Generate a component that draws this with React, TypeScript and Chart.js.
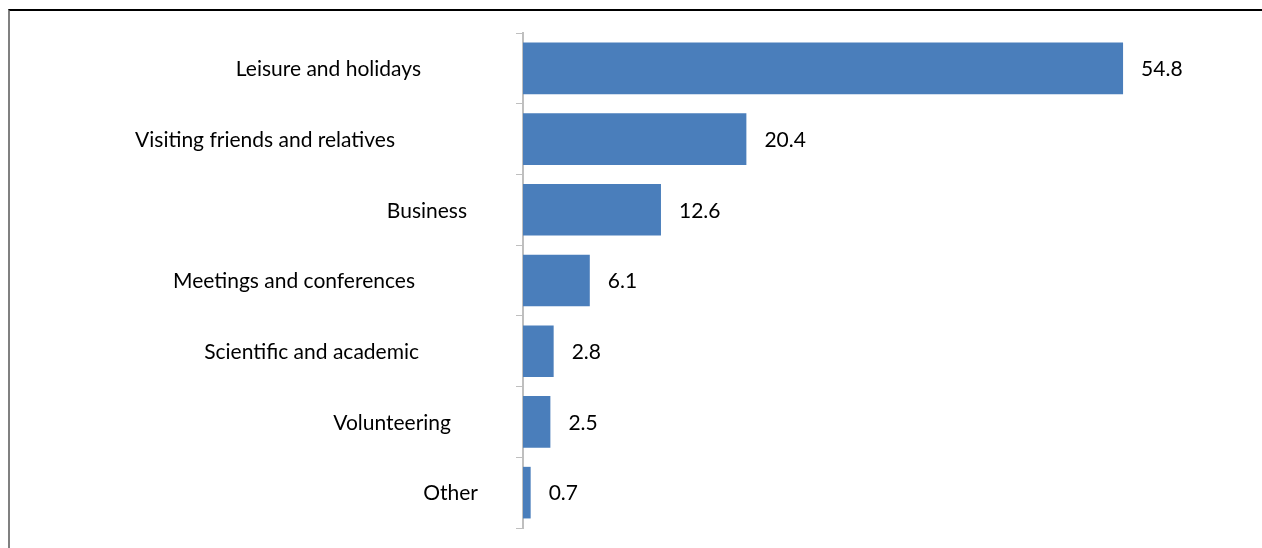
import React, { useEffect, useRef } from "react";
import { Chart, registerables } from "chart.js";

Chart.register(...registerables);

const categories = [
  "Leisure and holidays",
  "Visiting friends and relatives",
  "Business",
  "Meetings and conferences",
  "Scientific and academic",
  "Volunteering",
  "Other",
];
const values = [54.8, 20.4, 12.6, 6.1, 2.8, 2.5, 0.7];
const valueLabels = ["54.8", "20.4", "12.6", "6.1", "2.8", "2.5", "0.7"];

// styling: how far each category label's right edge sits left of the axis (px)
const labelGap = [102, 128, 56, 108, 104, 72, 45];

const FONT = "Lato, 'Open Sans', sans-serif";

const labelsPlugin = {
  id: "customLabels",
  afterDatasetsDraw(chart: any) {
    const ctx = chart.ctx;
    const yScale = chart.scales.y;
    const meta = chart.getDatasetMeta(0);
    ctx.save();
    ctx.font = `21px ${FONT}`;
    ctx.fillStyle = "#000";
    ctx.textBaseline = "middle";
    categories.forEach((c, i) => {
      const y = yScale.getPixelForValue(i) + 1;
      ctx.textAlign = "right";
      ctx.fillText(c, yScale.right - labelGap[i], y);
      const bar = meta.data[i];
      ctx.textAlign = "left";
      ctx.fillText(valueLabels[i], bar.x + 18, y);
    });
    ctx.restore();
  },
};

export default function App() {
  const ref = useRef<HTMLCanvasElement | null>(null);
  useEffect(() => {
    document.body.style.overflow = "hidden";
    if (!ref.current) return;
    const chart = new Chart(ref.current, {
      type: "bar",
      data: {
        labels: categories,
        datasets: [
          {
            data: values,
            backgroundColor: "#4A7EBB",
            borderWidth: 0,
            categoryPercentage: 1,
            barPercentage: 0.73,
          },
        ],
      },
      options: {
        indexAxis: "y",
        animation: false,
        responsive: false,
        maintainAspectRatio: false,
        layout: { padding: { top: 22, bottom: 20, right: 82, left: 0 } },
        plugins: {
          legend: { display: false },
          tooltip: { enabled: false },
        },
        scales: {
          x: {
            display: false,
            min: 0,
            max: 60,
          },
          y: {
            afterFit(scale: any) {
              scale.width = 513;
            },
            ticks: { display: false },
            grid: {
              display: true,
              drawOnChartArea: false,
              drawTicks: true,
              tickLength: 7,
              color: "#bfbfbf",
              offset: true,
            },
            border: { display: true, color: "#bfbfbf", width: 2 },
          },
        },
      },
      plugins: [labelsPlugin],
    });
    return () => chart.destroy();
  }, []);
  return (
    <div
      style={{
        position: "absolute",
        left: 8,
        top: 9,
        width: 1254,
        height: 539,
        borderTop: "2px solid #000",
        borderLeft: "2px solid #808080",
      }}
    >
      <canvas ref={ref} width={1252} height={537} style={{ display: "block" }} />
    </div>
  );
}
